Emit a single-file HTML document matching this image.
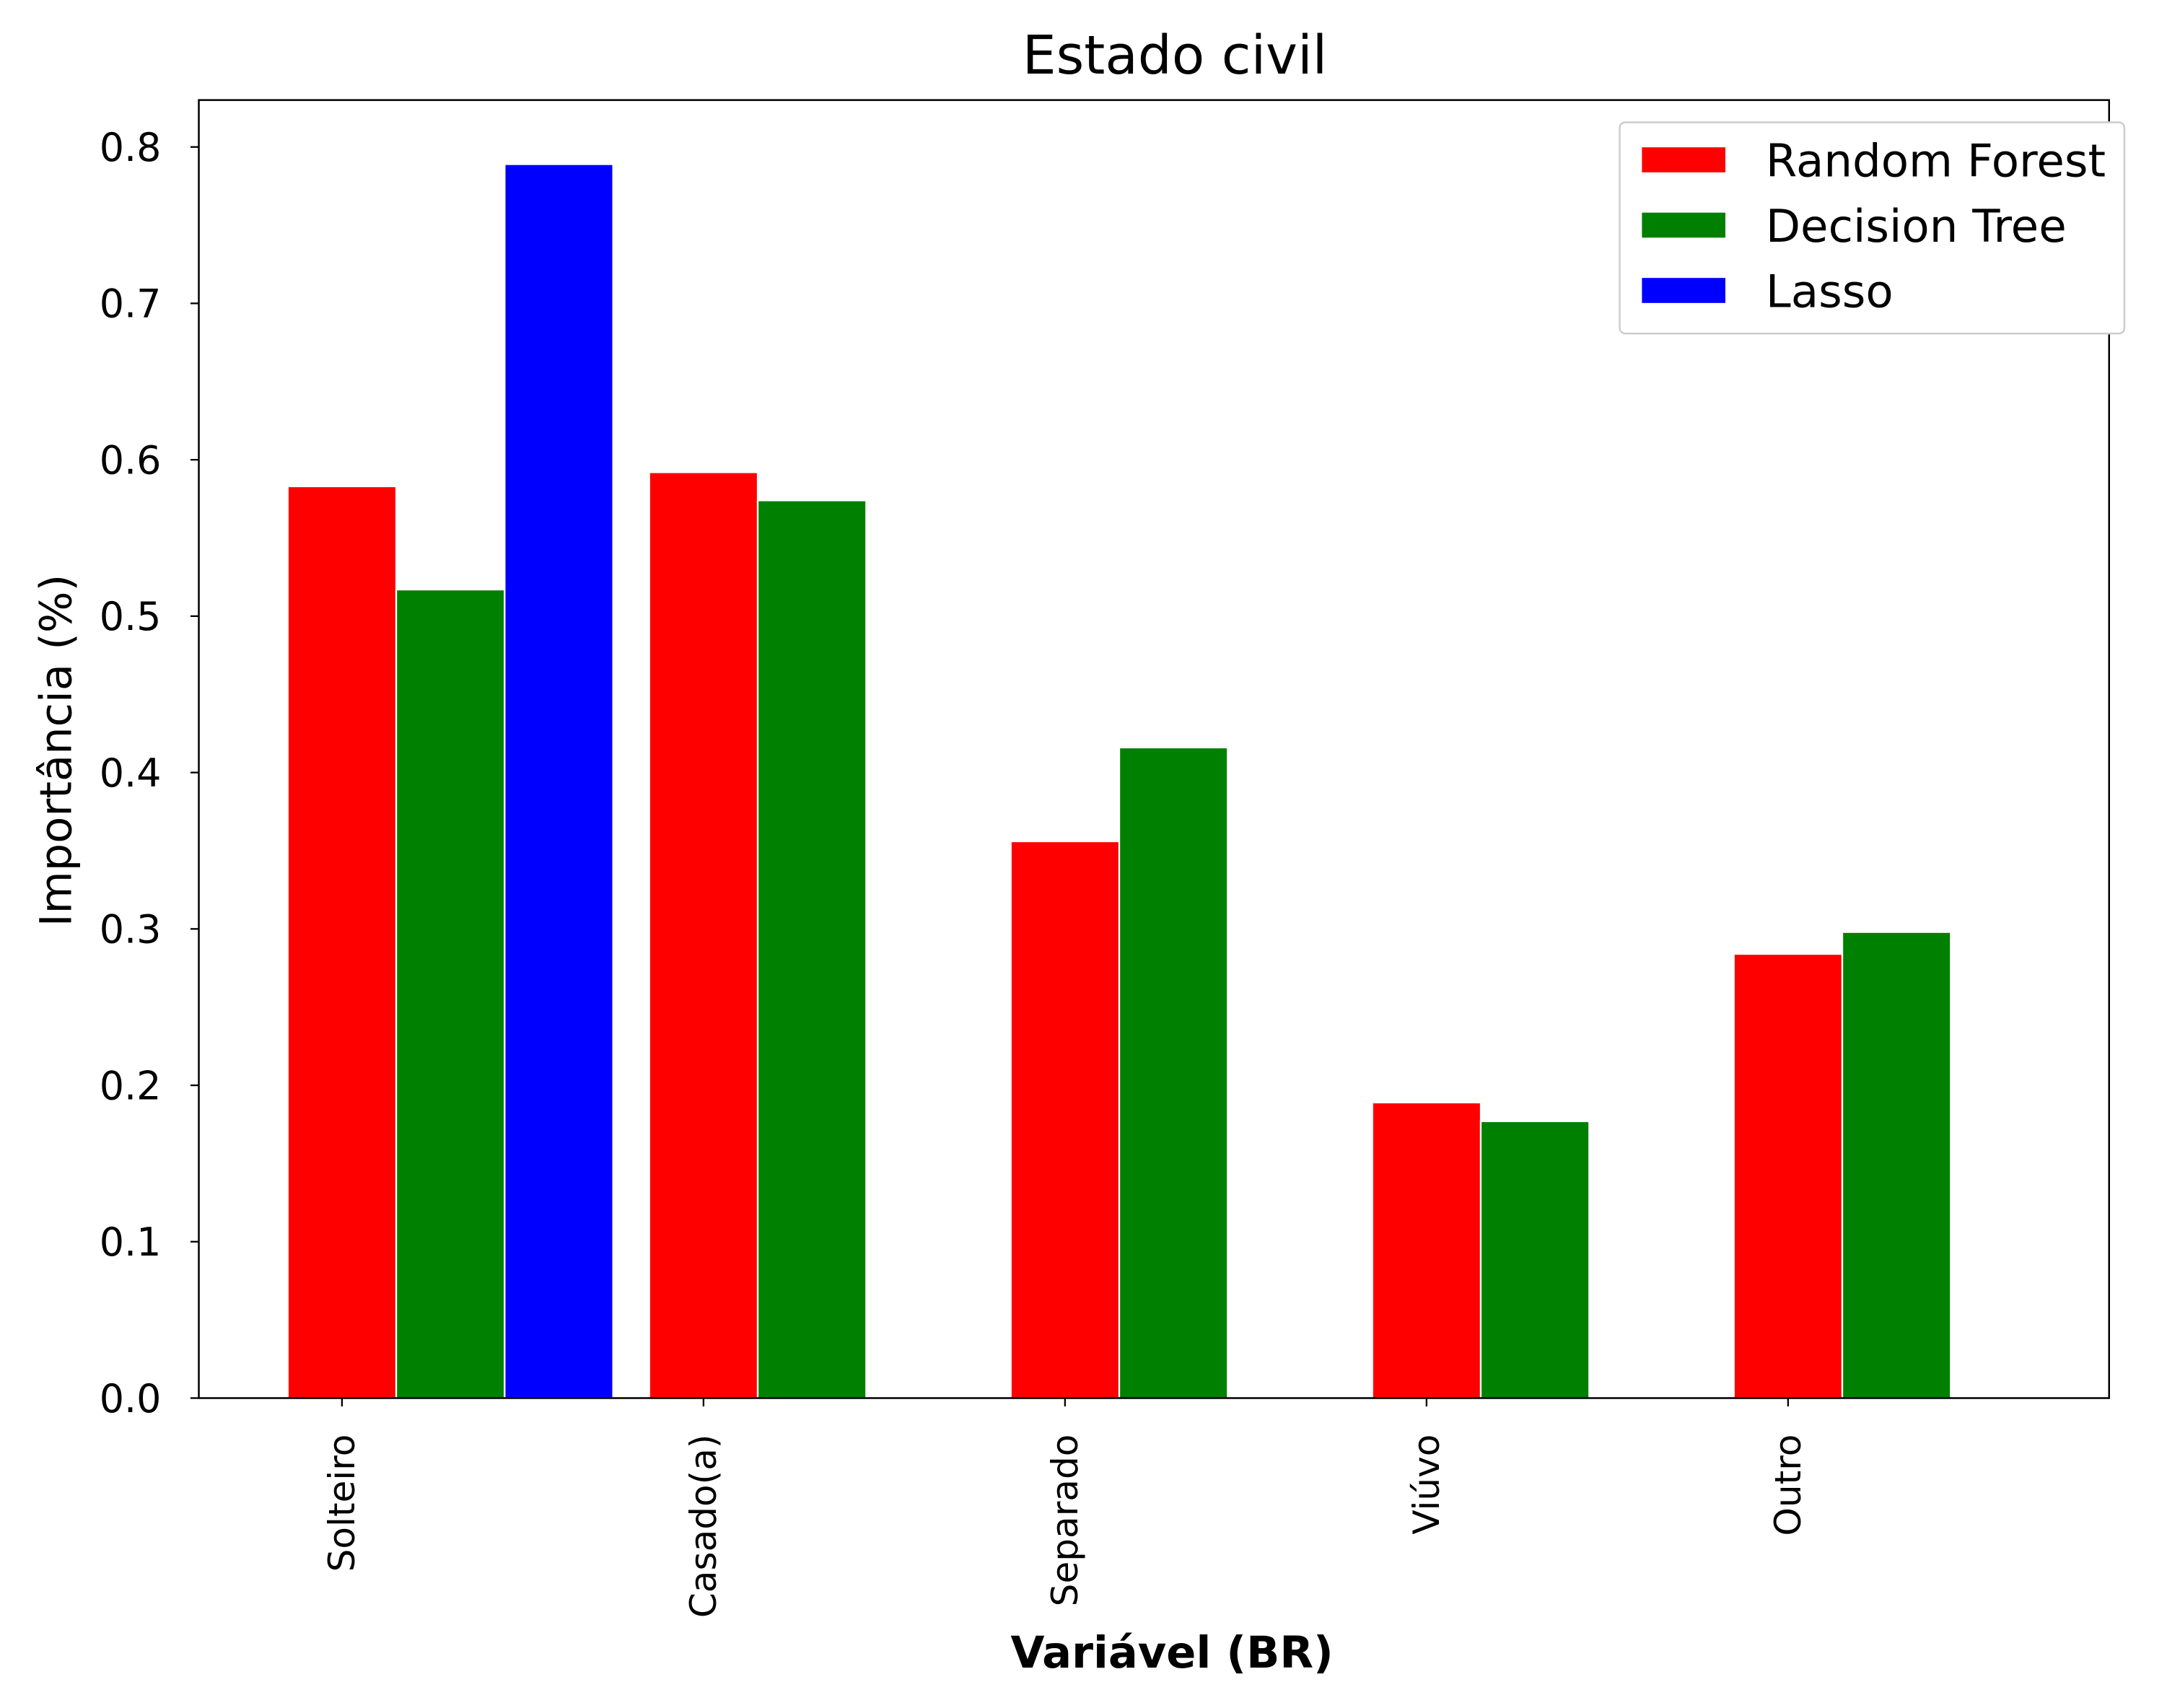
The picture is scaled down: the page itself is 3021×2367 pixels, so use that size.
<!DOCTYPE html>
<html><head><meta charset="utf-8"><style>
html,body{margin:0;padding:0;background:#fff}
svg{display:block;font-family:"DejaVu Sans","Liberation Sans",sans-serif}
</style></head><body>
<svg id="chart" width="3021" height="2367" viewBox="0 0 1568 1229" preserveAspectRatio="none" xmlns="http://www.w3.org/2000/svg">
<rect width="1568" height="1229" fill="#fff"/>
<text x="845" y="53" font-size="38.5" text-anchor="middle">Estado civil</text>
<g id="plot"></g>
<rect x="143" y="72" width="1374" height="934" fill="none" stroke="#000" stroke-width="1.3"/>
<text transform="translate(51,540) rotate(-90)" font-size="31.5" text-anchor="middle">Importância (%)</text>
<text x="843" y="1200" font-size="31.5" font-weight="bold" text-anchor="middle">Variável (BR)</text>
<g>
<rect x="1165" y="88" width="363" height="152" rx="4" fill="#fff" stroke="#ccc" stroke-width="1.3"/>
<rect x="1181" y="106" width="60" height="18" fill="#ff0000"/>
<text x="1270" y="127" font-size="32.5">Random Forest</text>
<rect x="1181" y="153" width="60" height="18" fill="#008000"/>
<text x="1270" y="174" font-size="32.5">Decision Tree</text>
<rect x="1181" y="200" width="60" height="18" fill="#0000ff"/>
<text x="1270" y="221" font-size="32.5">Lasso</text>
</g>
</svg>
<script>
const categories = ["Solteiro","Casado(a)","Separado","Viúvo","Outro"];
const rfValues = [0.583, 0.592, 0.356, 0.189, 0.284];
const dtValues = [0.517, 0.574, 0.416, 0.177, 0.298];
const lassoValues = [0.789, 0, 0, 0, 0];
const yTicks = [0.0,0.1,0.2,0.3,0.4,0.5,0.6,0.7,0.8];
const yTickLabels = ["0.0","0.1","0.2","0.3","0.4","0.5","0.6","0.7","0.8"];

const NS="http://www.w3.org/2000/svg";
const plot=document.getElementById('plot');
const X0=143,X1=1517,Y0=1006,Y1=72;
const xmin=-0.396,xmax=4.888,ymin=0,ymax=0.83;
function xs(v){return X0+(v-xmin)/(xmax-xmin)*(X1-X0);}
function ys(v){return Y0-(v-ymin)/(ymax-ymin)*(Y0-Y1);}
function mk(t,a){const e=document.createElementNS(NS,t);for(const k in a)e.setAttribute(k,a[k]);plot.appendChild(e);return e;}
const bw=0.3;
const series=[[rfValues,"#ff0000","rf"],[dtValues,"#008000","dt"],[lassoValues,"#0000ff","lasso"]];
series.forEach((s,si)=>{
  s[0].forEach((v,i)=>{
    if(v<=0)return;
    const l=xs(i+si*bw-bw/2),r=xs(i+si*bw+bw/2);
    const e=mk('rect',{x:l,y:ys(v),width:r-l,height:ys(0)-ys(v),fill:s[1],stroke:"#fff","stroke-width":1.2});
    
    
  });
});
yTicks.forEach((t,i)=>{
  const y=ys(t);
  const l=mk('line',{x1:X0-6,x2:X0,y1:y,y2:y,stroke:"#000","stroke-width":1.2});
  
  
  const tx=mk('text',{x:X0-27,y:y+10,"font-size":28,"text-anchor":"end"});
  tx.textContent=yTickLabels[i];
  
  
});
categories.forEach((c,i)=>{
  const x=xs(i);
  const l=mk('line',{x1:x,x2:x,y1:Y0,y2:Y0+6,stroke:"#000","stroke-width":1.2});
  
  
  const tx=mk('text',{transform:`translate(${x+9},1032) rotate(-90)`,"font-size":26,"text-anchor":"end"});
  tx.textContent=c;
  
  
});
</script>
</body></html>
